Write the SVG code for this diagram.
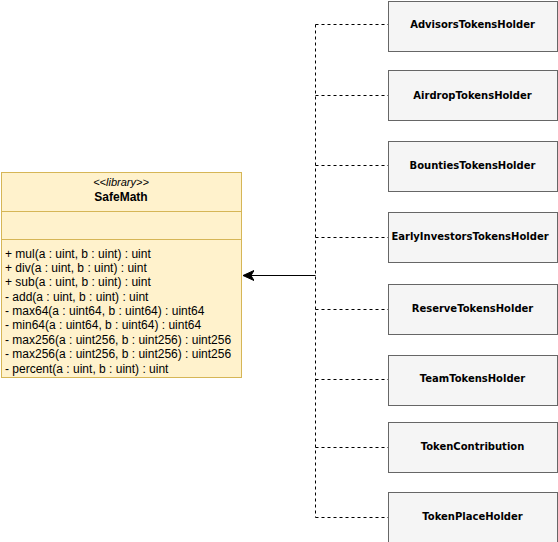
<svg xmlns="http://www.w3.org/2000/svg" width="558" height="542" viewBox="0 0 558 542">
<style>
.node rect{fill:#f5f5f5;stroke:#666666;stroke-width:1}
.node text{font-family:"DejaVu Sans",Verdana,sans-serif;font-size:10px;font-weight:bold;fill:#000;text-anchor:middle}
.cls{fill:#fff2cc;stroke:#d6b656;stroke-width:1}
.m{font-family:"Liberation Sans",Arial,sans-serif;font-size:12px;fill:#000}
.dash{fill:none;stroke:#000;stroke-width:1;stroke-dasharray:3 3}
</style>
<defs>
<marker id="arr" markerWidth="12" markerHeight="12" refX="11" refY="6" orient="auto" markerUnits="userSpaceOnUse">
<path d="M11,6 L0,1 L3,6 L0,11 Z" fill="#000" stroke="#000" stroke-width="1"/>
</marker>
</defs>
<rect width="558" height="542" fill="#fff"/>
<g id="SafeMath">
<rect class="cls" x="1.5" y="172.5" width="240" height="205"/>
<line x1="1.5" y1="211.5" x2="241.5" y2="211.5" stroke="#d6b656"/>
<line x1="1.5" y1="239.5" x2="241.5" y2="239.5" stroke="#d6b656"/>
<text x="121" y="186" font-family="Liberation Sans,Arial,sans-serif" font-size="11" font-style="italic" text-anchor="middle">&lt;&lt;library&gt;&gt;</text>
<text x="121" y="201" font-family="Liberation Sans,Arial,sans-serif" font-size="12" font-weight="bold" text-anchor="middle">SafeMath</text>
<text class="m" x="5" y="258">+ mul(a : uint, b : uint) : uint</text>
<text class="m" x="5" y="272">+ div(a : uint, b : uint) : uint</text>
<text class="m" x="5" y="286">+ sub(a : uint, b : uint) : uint</text>
<text class="m" x="5" y="301">- add(a : uint, b : uint) : uint</text>
<text class="m" x="5" y="315">- max64(a : uint64, b : uint64) : uint64</text>
<text class="m" x="5" y="329">- min64(a : uint64, b : uint64) : uint64</text>
<text class="m" x="5" y="344">- max256(a : uint256, b : uint256) : uint256</text>
<text class="m" x="5" y="358">- max256(a : uint256, b : uint256) : uint256</text>
<text class="m" x="5" y="373">- percent(a : uint, b : uint) : uint</text>
</g>
<g id="connectors">
<path class="dash" d="M315.5,24.5 L315.5,517.5"/>
<path class="dash" d="M315.5,24.5 H388 M315.5,95.5 H388 M315.5,165.5 H388 M315.5,237.5 H388 M315.5,309.5 H388 M315.5,379.5 H388 M315.5,447.5 H388 M315.5,517.5 H388"/>
<path d="M315.5,275.5 H243" stroke="#000" stroke-width="1" fill="none" marker-end="url(#arr)"/>
</g>
<g id="AdvisorsTokensHolder" class="node"><rect x="388.5" y="1.5" width="169" height="50"/><text x="472.5" y="28">AdvisorsTokensHolder</text></g>
<g id="AirdropTokensHolder" class="node"><rect x="388.5" y="70.5" width="169" height="50"/><text x="472.5" y="99">AirdropTokensHolder</text></g>
<g id="BountiesTokensHolder" class="node"><rect x="388.5" y="141.5" width="169" height="50"/><text x="472.5" y="169">BountiesTokensHolder</text></g>
<g id="EarlyInvestorsTokensHolder" class="node"><rect x="388.5" y="212.5" width="169" height="50"/><text x="470" y="240">EarlyInvestorsTokensHolder</text></g>
<g id="ReserveTokensHolder" class="node"><rect x="388.5" y="284.5" width="169" height="50"/><text x="472.5" y="312">ReserveTokensHolder</text></g>
<g id="TeamTokensHolder" class="node"><rect x="388.5" y="355.5" width="169" height="50"/><text x="472.5" y="382">TeamTokensHolder</text></g>
<g id="TokenContribution" class="node"><rect x="388.5" y="422.5" width="169" height="50"/><text x="472.5" y="450">TokenContribution</text></g>
<g id="TokenPlaceHolder" class="node"><rect x="388.5" y="492.5" width="169" height="50"/><text x="472.5" y="520">TokenPlaceHolder</text></g>
</svg>
